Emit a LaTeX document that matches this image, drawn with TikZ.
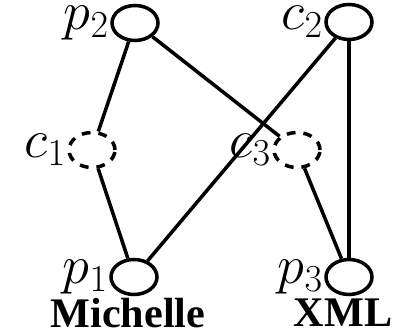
\RequirePackage{fix-cm}
\documentclass[tikz,border=0pt]{standalone}
\usepackage{fontspec}
\setmainfont{Liberation Serif}
\usetikzlibrary{positioning,shapes.geometric}

\tikzset{
  vert/.style={draw,ellipse,line width=2pt,minimum width=0.92cm,minimum height=0.7cm,inner sep=0pt},
  hidden/.style={vert,dash pattern=on 5pt off 4.5pt},
  lbl/.style={inner sep=0.5pt},
  edge/.style={line width=2pt},
}

\begin{document}
\begin{tikzpicture}[font=\fontsize{31}{34}\selectfont]
  \useasboundingbox (0,0) rectangle (8.02,6.64);
  % top row
  \node[vert,label={[lbl]left:$p_2$}] (p2) at (2.70,6.18) {};
  \node[vert,label={[lbl]left:$c_2$}] (c2) at (6.98,6.20) {};
  % middle row
  \node[hidden,label={[lbl]left:$c_1$}] (c1) at (1.84,3.64) {};
  \node[hidden,label={[lbl]left:$c_3$}] (c3) at (5.94,3.64) {};
  % bottom row
  \node[vert,label={[lbl]left:$p_1$}] (p1) at (2.68,1.10) {};
  \node[vert,label={[lbl]left:$p_3$}] (p3) at (6.98,1.10) {};
  \node[font=\fontsize{24}{28}\selectfont\bfseries,inner sep=0pt] (mi) at (2.56,0.38) {Michelle};
  \node[font=\fontsize{24}{28}\selectfont\bfseries,inner sep=0pt] (xm) at (6.86,0.38) {XML};

  \draw[edge] (p2) -- (c1);
  \draw[edge] (c1) -- (p1);
  \draw[edge] (p2) -- (c3);
  \draw[edge] (c3) -- (p3);
  \draw[edge] (c2) -- (p1);
  \draw[edge] (c2) -- (p3);
\end{tikzpicture}
\end{document}
